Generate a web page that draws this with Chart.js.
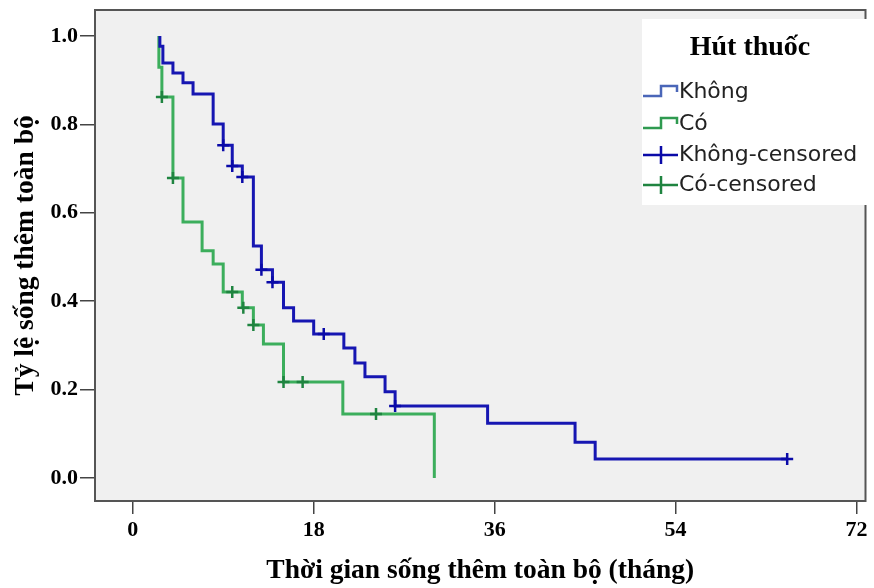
<!DOCTYPE html>
<html>
<head>
<meta charset="utf-8">
<title>Thời gian sống thêm toàn bộ</title>
<script src="https://cdn.jsdelivr.net/npm/chart.js@4.4.1/dist/chart.umd.min.js"></script>
<style>
  body { margin: 0; background: #fff; }
  canvas { display: block; }
</style>
</head>
<body>
<canvas id="kmChart" width="874" height="588"></canvas>
<script>
// Đường Kaplan-Meier: thời điểm (tháng) và tỷ lệ sống sau mỗi bước
const khongTime = [2.7, 2.7, 3.0, 4.0, 5.0, 6.0, 8.0, 9.0, 9.9, 10.9, 12.0, 12.8, 13.9, 15.0, 16.0, 18.0, 21.0, 22.1, 23.1, 25.1, 26.1, 35.3, 44.0, 46.0, 65.1];
const khongSurv = [1.0, 0.977, 0.939, 0.916, 0.894, 0.869, 0.801, 0.753, 0.706, 0.681, 0.525, 0.471, 0.443, 0.385, 0.355, 0.326, 0.294, 0.260, 0.229, 0.195, 0.163, 0.124, 0.081, 0.043, 0.043];

const coTime = [2.6, 2.6, 2.9, 4.0, 5.0, 6.9, 8.0, 9.0, 10.9, 12.0, 13.0, 15.0, 20.9, 30.0];
const coSurv = [1.0, 0.929, 0.862, 0.679, 0.579, 0.514, 0.484, 0.421, 0.385, 0.346, 0.303, 0.217, 0.145, 0.0];

// Các ca kiểm duyệt (censored)
const khongCensTime = [9.0, 9.9, 10.9, 12.8, 13.9, 19.0, 26.1, 65.1];
const khongCensSurv = [0.753, 0.706, 0.681, 0.471, 0.443, 0.326, 0.163, 0.043];

const coCensTime = [2.9, 4.0, 9.9, 11.0, 12.0, 15.0, 16.9, 24.2];
const coCensSurv = [0.862, 0.679, 0.421, 0.385, 0.346, 0.217, 0.217, 0.145];

const xTicks = [0, 18, 36, 54, 72];
const yTicks = [0, 0.2, 0.4, 0.6, 0.8, 1.0];

const legendTitle = 'Hút thuốc';
const legendLabels = ['Không', 'Có', 'Không-censored', 'Có-censored'];

const blueLine = '#1616b2';
const greenLine = '#3cae5c';
const blueMark = '#0a0aa8';
const greenMark = '#1f8440';

function toPoints(xs, ys) {
    return xs.map((x, i) => ({ x: x, y: ys[i] }));
}

// nền xám và khung quanh vùng vẽ
const plotFrame = {
    id: 'plotFrame',
    beforeDatasetsDraw(chart) {
        const { ctx, chartArea: a } = chart;
        ctx.save();
        ctx.fillStyle = '#f0f0f0';
        ctx.fillRect(a.left, a.top, a.width, a.height);
        ctx.strokeStyle = '#555';
        ctx.lineWidth = 2;
        ctx.strokeRect(a.left, a.top, a.width, a.height);
        ctx.restore();
    }
};

// chú thích kiểu SPSS ở góc trên bên phải
const legendBox = {
    id: 'legendBox',
    afterDatasetsDraw(chart) {
        const ctx = chart.ctx;
        const rows = [92, 124, 155, 185];
        const colors = [ '#4a66b8', '#2f9a50', blueMark, greenMark ];
        ctx.save();
        ctx.fillStyle = '#fff';
        ctx.fillRect(642, 19, 226, 186);

        ctx.fillStyle = '#000';
        ctx.font = 'bold 28px "Liberation Serif"';
        ctx.textAlign = 'center';
        ctx.textBaseline = 'middle';
        ctx.fillText(legendTitle, 750, 48);

        ctx.font = '22px "DejaVu Sans"';
        ctx.textAlign = 'left';
        legendLabels.forEach((label, i) => {
            const y = rows[i];
            ctx.strokeStyle = colors[i];
            ctx.lineWidth = 2.5;
            ctx.beginPath();
            if (i < 2) {
                // ký hiệu bậc thang
                ctx.moveTo(643, y + 4);
                ctx.lineTo(661, y + 4);
                ctx.lineTo(661, y - 6);
                ctx.lineTo(677, y - 6);
                ctx.lineTo(677, y);
            } else {
                // dấu cộng
                ctx.moveTo(643, y);
                ctx.lineTo(678, y);
                ctx.moveTo(661, y - 9);
                ctx.lineTo(661, y + 9);
            }
            ctx.stroke();
            ctx.fillStyle = '#222';
            ctx.fillText(label, 679, y);
        });
        ctx.restore();
    }
};

const tickFont = { family: 'Liberation Serif', size: 22, weight: 'bold' };
const titleFont = { family: 'Liberation Serif', size: 27.5, weight: 'bold' };

const ctx = document.getElementById('kmChart').getContext('2d');
const kmChart = new Chart(ctx, {
    type: 'line',
    data: {
        datasets: [
            {
                label: legendLabels[2],
                data: toPoints(khongCensTime, khongCensSurv),
                showLine: false,
                pointStyle: 'cross',
                pointRadius: 6,
                pointBorderWidth: 2.5,
                borderColor: blueMark,
                order: 0
            },
            {
                label: legendLabels[3],
                data: toPoints(coCensTime, coCensSurv),
                showLine: false,
                pointStyle: 'cross',
                pointRadius: 6,
                pointBorderWidth: 2.5,
                borderColor: greenMark,
                order: 1
            },
            {
                label: legendLabels[0],
                data: toPoints(khongTime, khongSurv),
                stepped: true,
                borderColor: blueLine,
                borderWidth: 3,
                pointRadius: 0,
                fill: false,
                order: 2
            },
            {
                label: legendLabels[1],
                data: toPoints(coTime, coSurv),
                stepped: true,
                borderColor: greenLine,
                borderWidth: 3,
                pointRadius: 0,
                fill: false,
                order: 3
            }
        ]
    },
    options: {
        responsive: false,
        animation: false,
        layout: { padding: { top: 10, right: -4, left: 0, bottom: 0 } },
        plugins: {
            legend: { display: false },
            tooltip: { enabled: false }
        },
        scales: {
            x: {
                type: 'linear',
                min: -3.753,
                max: 72.89,
                afterFit: s => {
                    s.height = 87;
                    s.paddingLeft = 0;
                    s.paddingRight = 0;
                },
                afterBuildTicks: s => { s.ticks = xTicks.map(v => ({ value: v })); },
                grid: { drawOnChartArea: false, tickLength: 13, color: '#444', lineWidth: 1.5 },
                border: { display: false },
                ticks: { font: tickFont, color: '#000', padding: 3, maxRotation: 0 },
                title: {
                    display: true,
                    text: 'Thời gian sống thêm toàn bộ (tháng)',
                    font: titleFont,
                    color: '#000',
                    padding: { top: 0, bottom: 1 }
                }
            },
            y: {
                type: 'linear',
                min: -0.052,
                max: 1.0588,
                afterFit: s => {
                    s.width = 95;
                    s.paddingTop = 0;
                    s.paddingBottom = 0;
                },
                afterBuildTicks: s => { s.ticks = yTicks.map(v => ({ value: v })); },
                grid: { drawOnChartArea: false, tickLength: 15, color: '#444', lineWidth: 1.5 },
                border: { display: false },
                ticks: {
                    font: tickFont,
                    color: '#000',
                    padding: 2,
                    callback: v => v.toFixed(1)
                },
                title: {
                    display: true,
                    text: 'Tỷ lệ sống thêm toàn bộ',
                    font: titleFont,
                    color: '#000',
                    padding: { top: 9, bottom: 0 }
                }
            }
        }
    },
    plugins: [plotFrame, legendBox]
});
</script>
</body>
</html>
